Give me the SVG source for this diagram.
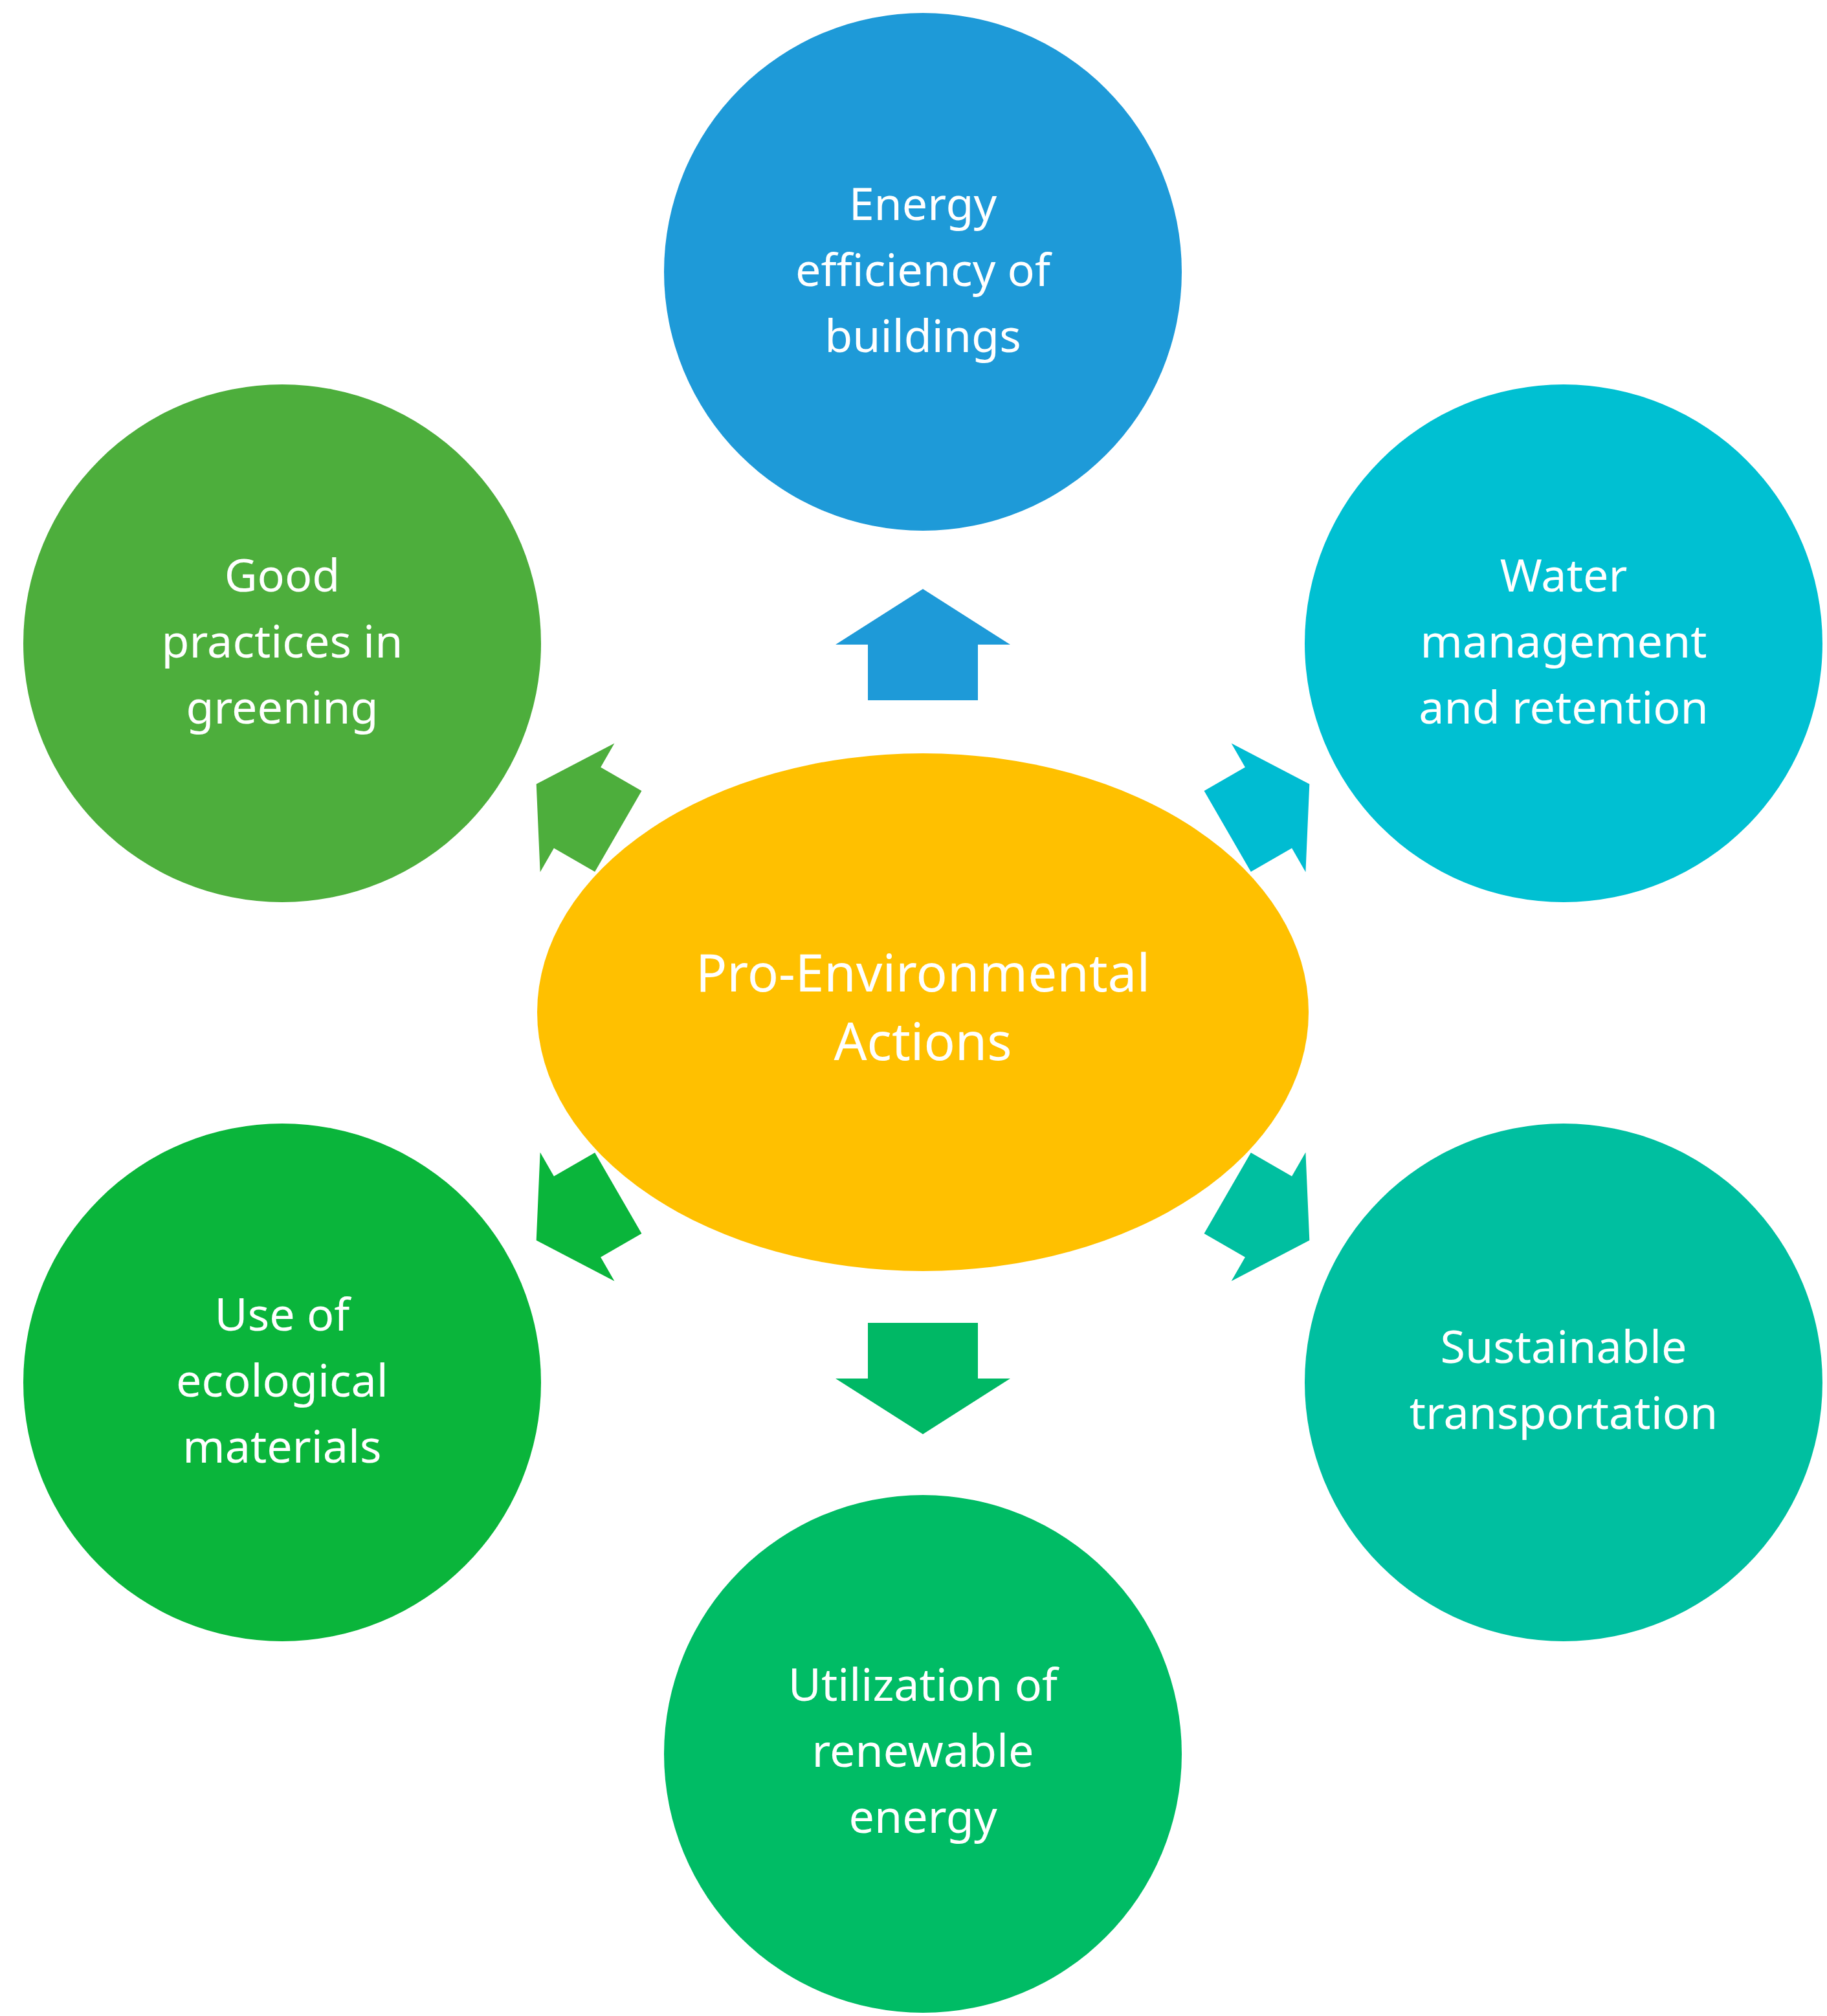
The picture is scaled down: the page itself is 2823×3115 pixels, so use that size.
<svg xmlns="http://www.w3.org/2000/svg" width="2823" height="3115" viewBox="0 0 2823 3115">
<style>
text{font-family:"Noto Sans","Liberation Sans",sans-serif;font-size:70px;fill:#fff;text-anchor:middle}
.big{font-size:80px}
</style>
<defs>
<path id="arr" d="M0,-86 L135,0 L85,0 L85,86 L-85,86 L-85,0 L-135,0 Z"/>
</defs>
<rect width="2823" height="3115" fill="#fff"/>
<g id="connectors">
<use href="#arr" fill="#1E9AD8" transform="translate(1426,996)"/>
<use href="#arr" fill="#00B865" transform="translate(1426,2130) rotate(180)"/>
<use href="#arr" fill="#4DAE3C" transform="translate(892,1248) rotate(-60) scale(0.85)"/>
<use href="#arr" fill="#00BCD2" transform="translate(1960,1248) rotate(60) scale(0.85)"/>
<use href="#arr" fill="#0AB53B" transform="translate(892,1880) rotate(-120) scale(0.85)"/>
<use href="#arr" fill="#00BFA0" transform="translate(1960,1880) rotate(120) scale(0.85)"/>
</g>
<g id="center"><ellipse cx="1426" cy="1564" rx="596" ry="400" fill="#FFC000"/>
<text class="big" x="1426" y="1532">Pro-Environmental</text><text class="big" x="1426" y="1638">Actions</text></g>
<g id="energy"><circle cx="1426" cy="420" r="400" fill="#1E9AD8"/>
<text x="1426" y="340">Energy</text><text x="1426" y="442">efficiency of</text><text x="1426" y="544">buildings</text></g>
<g id="water"><circle cx="2416" cy="994" r="400" fill="#00C0D2"/>
<text x="2416" y="914">Water</text><text x="2416" y="1016">management</text><text x="2416" y="1118">and retention</text></g>
<g id="greening"><circle cx="436" cy="994" r="400" fill="#4DAE3C"/>
<text x="436" y="914">Good</text><text x="436" y="1016">practices in</text><text x="436" y="1118">greening</text></g>
<g id="materials"><circle cx="436" cy="2136" r="400" fill="#0AB53B"/>
<text x="436" y="2056">Use of</text><text x="436" y="2158">ecological</text><text x="436" y="2260">materials</text></g>
<g id="transport"><circle cx="2416" cy="2136" r="400" fill="#00BFA0"/>
<text x="2416" y="2106">Sustainable</text><text x="2416" y="2208">transportation</text></g>
<g id="renewable"><circle cx="1426" cy="2710" r="400" fill="#00BC65"/>
<text x="1426" y="2628">Utilization of</text><text x="1426" y="2730">renewable</text><text x="1426" y="2832">energy</text></g>
</svg>
